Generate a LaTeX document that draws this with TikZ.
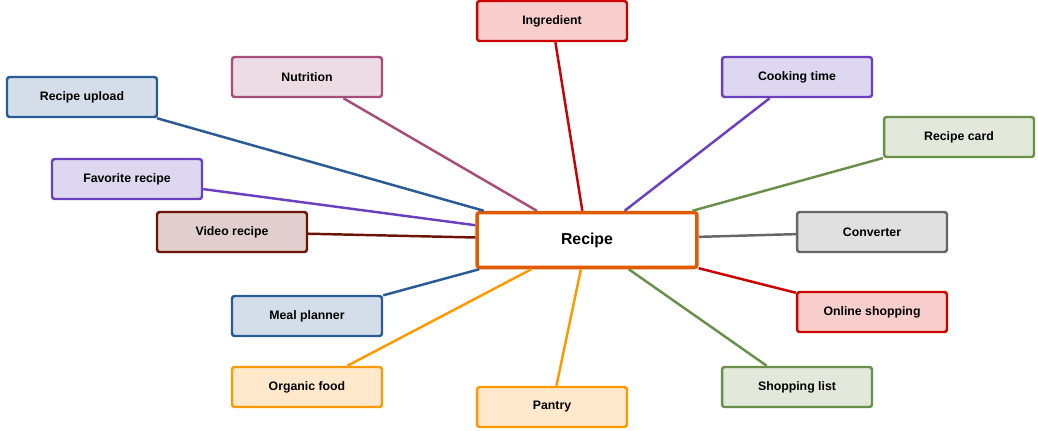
\documentclass[tikz,border=0pt]{standalone}
\usepackage{fontspec}
\setmainfont{Liberation Sans}
\definecolor{redD}{HTML}{CC0000}\definecolor{redF}{HTML}{F8CECC}
\definecolor{pinkD}{HTML}{A64D79}\definecolor{pinkF}{HTML}{EEDCE5}
\definecolor{purD}{HTML}{6A40BF}\definecolor{purF}{HTML}{DDD7F0}
\definecolor{bluD}{HTML}{2A5A96}\definecolor{bluF}{HTML}{D4DEEA}
\definecolor{grnD}{HTML}{6A8F4A}\definecolor{grnF}{HTML}{E2E8DA}
\definecolor{brnD}{HTML}{6A1406}\definecolor{brnF}{HTML}{E0CFCE}
\definecolor{gryD}{HTML}{666666}\definecolor{gryF}{HTML}{E0E0E0}
\definecolor{orgD}{HTML}{FF9900}\definecolor{orgF}{HTML}{FFE8CC}
\definecolor{hubD}{HTML}{E05A00}
\begin{document}
\begin{tikzpicture}[x=0.02cm,y=-0.02cm,
    box/.style={draw=#1D, fill=#1F, line width=1.4pt, rounded corners=1.5pt,
        minimum width=3cm, minimum height=0.8cm, font=\bfseries\fontsize{7}{8}\selectfont},
    link/.style={draw=#1D, line width=1.4pt}]

    \useasboundingbox (0,0) rectangle (1038,430);

    % centre
    \node[draw=hubD, fill=white, line width=2pt, rounded corners=1.5pt,
        minimum width=4.4cm, minimum height=1.1cm, font=\bfseries\fontsize{9}{10}\selectfont]
        (recipe) at (587,240) {Recipe};

    % topics
    \node[box=red]  (ingr)  at (552,21)  {Ingredient};
    \node[box=pink] (nutr)  at (307,77)  {Nutrition};
    \node[box=pur]  (cook)  at (797,77)  {Cooking time};
    \node[box=blu]  (upld)  at (82,97)   {Recipe upload};
    \node[box=grn]  (card)  at (959,137) {Recipe card};
    \node[box=pur]  (fav)   at (127,179) {Favorite recipe};
    \node[box=brn]  (video) at (232,232) {Video recipe};
    \node[box=gry]  (conv)  at (872,232) {Converter};
    \node[box=blu]  (meal)  at (307,316) {Meal planner};
    \node[box=red]  (shop)  at (872,312) {Online shopping};
    \node[box=org]  (organ) at (307,387) {Organic food};
    \node[box=grn]  (list)  at (797,387) {Shopping list};
    \node[box=org]  (pant)  at (552,407) {Pantry};

    % links
    \begin{scope}[on background layer/.try]
    \foreach \n/\c in {ingr/red,nutr/pink,cook/pur,upld/blu,card/grn,fav/pur,video/brn,
        conv/gry,meal/blu,shop/red,organ/org,list/grn,pant/org}
        \draw[link=\c] (\n) -- (recipe);
    \end{scope}

\end{tikzpicture}
\end{document}
